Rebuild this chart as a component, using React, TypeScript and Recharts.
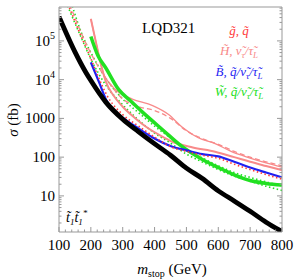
import React from "react";
import { Line, LineChart, XAxis, YAxis } from "recharts";

const SERIF = "'Liberation Serif', 'DejaVu Serif', 'Times New Roman', Times, serif";
const FRAME = "#999";
const PINK = "#f88a8a";
const RED = "#ff3a3a";
const BLUE = "#1f1ff2";
const GREEN = "#22e022";

// m_stop (GeV) vs sigma (fb)
const stopPair: [number, number][] = [
  [100, 4.2e5], [150, 5.2e4], [184, 1.55e4], [200, 9500], [247, 2630], [300, 950],
  [350, 450], [394, 240], [450, 112], [500, 52], [550, 28], [600, 13.5],
  [650, 7.4], [700, 4.0], [750, 2.1], [800, 1.2]
];
const binoSolid: [number, number][] = [
  [200, 2.8e4], [225, 8900], [250, 2800], [300, 1050], [340, 620], [394, 320],
  [456, 186], [500, 150], [550, 120], [600, 105], [650, 76], [700, 54], [750, 40], [800, 30]
];
const gluinoDotted: [number, number][] = [
  [128, 9e5], [165, 1.6e5], [200, 3.5e4], [225, 1.1e4], [250, 4000], [300, 1260],
  [350, 630], [400, 330], [456, 178], [500, 141], [550, 112], [600, 93],
  [650, 66], [700, 48], [750, 35.5], [800, 27]
];
const higgsinoDashed: [number, number][] = [
  [133, 9e5], [170, 1.6e5], [200, 4.8e4], [250, 1e4], [300, 3200], [350, 2000],
  [400, 1600], [450, 1000], [500, 480], [550, 300], [600, 214], [650, 141],
  [700, 100], [750, 76], [800, 60]
];
const higgsinoUpper: [number, number][] = [
  [200, 3.7e5], [215, 1e5], [230, 2.8e4], [240, 1.4e4], [260, 7900], [287, 4700],
  [330, 3160], [394, 2140], [444, 1260], [487, 590], [537, 316], [590, 224],
  [640, 141], [700, 95], [750, 71], [800, 55]
];
const higgsinoLower: [number, number][] = [
  [200, 3.7e5], [215, 1e5], [230, 2.8e4], [247, 8900], [270, 4000], [300, 2000],
  [340, 1000], [372, 620], [420, 355], [456, 250], [520, 178], [590, 138],
  [650, 100], [700, 76], [750, 59], [800, 46]
];
const winoSolid: [number, number][] = [
  [200, 1.3e5], [222, 4.2e4], [247, 2e4], [287, 5600], [325, 2800], [362, 1450],
  [425, 510], [487, 186], [550, 87], [600, 54], [650, 35], [700, 25], [750, 21], [800, 19]
];
const winoDotLow: [number, number][] = [
  [122, 1e6], [169, 1.26e5], [200, 3.4e4], [247, 7200], [300, 2240], [340, 1070],
  [400, 417], [444, 250], [500, 120], [544, 79], [600, 48], [647, 33],
  [700, 24], [750, 17.8], [800, 13.8]
];
const winoDotHigh: [number, number][] = [
  [138, 1e6], [175, 1.3e5], [200, 5e4], [250, 1e4], [300, 3160], [350, 1400],
  [400, 630], [450, 316], [500, 158], [550, 95], [600, 60], [650, 40],
  [700, 30], [750, 23], [800, 18]
];

const massLabels = [100, 200, 300, 400, 500, 600, 700, 800];
const massTicks = [
  100, 120, 140, 160, 180, 200, 220, 240, 260, 280, 300, 320, 340, 360, 380, 400,
  420, 440, 460, 480, 500, 520, 540, 560, 580, 600, 620, 640, 660, 680, 700,
  720, 740, 760, 780, 800
];
const sigmaDomain: [number, number] = [1.17, 7.5e5];
const decades = [1, 10, 100, 1000, 1e4, 1e5];
const sigmaTicks: number[] = [];
decades.forEach((d) => {
  for (let k = 1; k <= 9; k++) {
    const v = k * d;
    if (v >= sigmaDomain[0] && v <= sigmaDomain[1]) sigmaTicks.push(v);
  }
});

const toRows = (pts: [number, number][]) => pts.map(([m, s]) => ({ m, s }));
const isDecade = (v: number) => Math.abs(Math.log10(v) - Math.round(Math.log10(v))) < 1e-9;

const BottomTick = ({ x, y, payload }: any) => {
  const major = massLabels.includes(payload.value);
  return (
    <g>
      <line x1={x} x2={x} y1={y} y2={y - (major ? 5 : 2.5)} stroke={FRAME} />
      {major && (
        <text x={x} y={y + 18} textAnchor="middle" fontSize={15} fontFamily={SERIF} fill="#000">
          {payload.value}
        </text>
      )}
    </g>
  );
};

const TopTick = ({ x, y, payload }: any) => {
  const major = massLabels.includes(payload.value);
  return <line x1={x} x2={x} y1={y} y2={y + (major ? 5 : 2.5)} stroke={FRAME} />;
};

const LeftTick = ({ x, y, payload }: any) => {
  const v = payload.value;
  const major = isDecade(v);
  const exp = Math.round(Math.log10(v));
  return (
    <g>
      <line x1={x} x2={x + (major ? 5 : 2.5)} y1={y} y2={y} stroke={FRAME} />
      {major && (
        <text x={x - 4} y={y + 5} textAnchor="end" fontSize={15} fontFamily={SERIF} fill="#000">
          {exp >= 4 ? (
            <>
              <tspan>10</tspan>
              <tspan dy={-7} fontSize={10}>{exp}</tspan>
            </>
          ) : (
            String(v)
          )}
        </text>
      )}
    </g>
  );
};

const RightTick = ({ x, y, payload }: any) => {
  const major = isDecade(payload.value);
  return <line x1={x} x2={x - (major ? 5 : 2.5)} y1={y} y2={y} stroke={FRAME} />;
};

const Sub = ({ children }: { children: React.ReactNode }) => (
  <tspan dy={3} fontSize={9}>{children}</tspan>
);
const Up = ({ children }: { children: React.ReactNode }) => <tspan dy={-3}>{children}</tspan>;

export default function App() {
  const lines: { d: [number, number][]; c: string; w: number; dash?: string }[] = [
    { d: winoDotLow, c: GREEN, w: 1.6, dash: "1.5 2.5" },
    { d: winoDotHigh, c: GREEN, w: 1.6, dash: "1.5 2.5" },
    { d: higgsinoDashed, c: PINK, w: 1.3, dash: "5 3" },
    { d: higgsinoUpper, c: PINK, w: 1.3 },
    { d: higgsinoLower, c: PINK, w: 2 },
    { d: winoSolid, c: GREEN, w: 3.5 },
    { d: binoSolid, c: BLUE, w: 2.2 },
    { d: gluinoDotted, c: RED, w: 1.6, dash: "1.5 2.5" },
    { d: stopPair, c: "#000", w: 4.8 }
  ];

  return (
    <div style={{ position: "absolute", left: 0, top: 0, width: 295, height: 279, background: "#fff" }}>
      <LineChart width={295} height={279} margin={{ top: 6, right: 12, bottom: 46, left: 58 }}>
        <XAxis
          xAxisId="b"
          dataKey="m"
          type="number"
          domain={[100, 800]}
          allowDataOverflow
          ticks={massTicks}
          interval={0}
          height={1}
          tickSize={0}
          tickMargin={0}
          tick={<BottomTick />}
          tickLine={false}
          axisLine={{ stroke: FRAME }}
        />
        <XAxis
          xAxisId="t"
          orientation="top"
          type="number"
          domain={[100, 800]}
          allowDataOverflow
          ticks={massTicks}
          interval={0}
          height={1}
          tickSize={0}
          tickMargin={0}
          tick={<TopTick />}
          tickLine={false}
          axisLine={{ stroke: FRAME }}
        />
        <YAxis
          yAxisId="l"
          scale="log"
          type="number"
          domain={sigmaDomain}
          allowDataOverflow
          ticks={sigmaTicks}
          interval={0}
          width={1}
          tickSize={0}
          tickMargin={0}
          tick={<LeftTick />}
          tickLine={false}
          axisLine={{ stroke: FRAME }}
        />
        <YAxis
          yAxisId="r"
          orientation="right"
          scale="log"
          type="number"
          domain={sigmaDomain}
          allowDataOverflow
          ticks={sigmaTicks}
          interval={0}
          width={1}
          tickSize={0}
          tickMargin={0}
          tick={<RightTick />}
          tickLine={false}
          axisLine={{ stroke: FRAME }}
        />
        {lines.map((l, i) => (
          <Line
            key={i}
            xAxisId="b"
            yAxisId="l"
            data={toRows(l.d)}
            dataKey="s"
            type="monotone"
            stroke={l.c}
            strokeWidth={l.w}
            strokeDasharray={l.dash}
            dot={false}
            activeDot={false}
            isAnimationActive={false}
          />
        ))}
      </LineChart>
      <svg
        width={295}
        height={279}
        style={{ position: "absolute", left: 0, top: 0, pointerEvents: "none" }}
      >
        <text x={142} y={33} fontSize={15} fontFamily={SERIF} fill="#000">LQD321</text>
        <g fontStyle="italic" fontSize={13} textAnchor="middle" fontFamily={SERIF}>
          <text x={239} y={35} fill={RED}>g{"\u0303"}, q{"\u0303"}</text>
          <text x={239} y={55} fill={PINK}>
            H{"\u0303"}, ν{"\u0303"}<Sub>τ</Sub><Up>/τ{"\u0303"}</Up><Sub>L</Sub>
          </text>
          <text x={239} y={76} fill={BLUE}>
            B{"\u0303"}, q{"\u0303"}/ν{"\u0303"}<Sub>τ</Sub><Up>/τ{"\u0303"}</Up><Sub>L</Sub>
          </text>
          <text x={239} y={96} fill={GREEN}>
            W{"\u0303"}, q{"\u0303"}/ν{"\u0303"}<Sub>τ</Sub><Up>/τ{"\u0303"}</Up><Sub>L</Sub>
          </text>
        </g>
        <text x={66} y={222} fontSize={14} fontStyle="italic" fontFamily={SERIF} fill="#000">
          t{"\u0303"}<Sub>1</Sub><Up>t{"\u0303"}</Up><Sub>1</Sub><tspan dy={-9} fontSize={9}>*</tspan>
        </text>
        <text x={172} y={274} fontSize={15} textAnchor="middle" fontFamily={SERIF} fill="#000">
          <tspan fontStyle="italic">m</tspan>
          <tspan dy={3} fontSize={10}>stop</tspan>
          <tspan dy={-3}> (GeV)</tspan>
        </text>
        <text
          x={18}
          y={120}
          fontSize={15}
          textAnchor="middle"
          fontFamily={SERIF}
          fill="#000"
          transform="rotate(-90 18 120)"
        >
          <tspan fontStyle="italic">σ</tspan> (fb)
        </text>
      </svg>
    </div>
  );
}
